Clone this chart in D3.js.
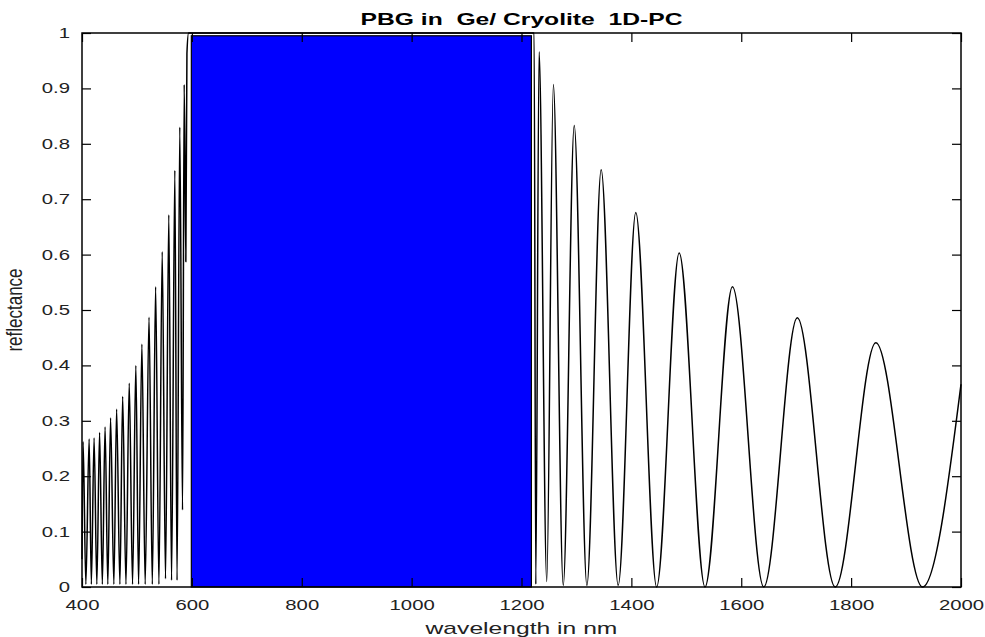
<!DOCTYPE html>
<html>
<head>
<meta charset="utf-8">
<title>PBG in Ge/ Cryolite 1D-PC</title>
<script src="https://cdn.jsdelivr.net/npm/d3@7"></script>
<style>
  body { margin: 0; background: #fff; }
  svg { display: block; font-family: "Liberation Sans", Arial, Helvetica, sans-serif; }
</style>
</head>
<body>
<svg id="chart" width="985" height="637"></svg>
<script>
// turning points of the reflectance curve (nm / R)
var wavelength = [400, 402, 407, 413, 417, 422, 427, 432, 437, 442,
                  447, 452, 458, 463, 469, 474, 480, 486, 492, 498,
                  503, 509, 515, 522, 528, 534, 540, 546, 552, 558,
                  563, 569, 573, 578, 583, 586, 589, 591, 594, 1223,
                  1226, 1232, 1246, 1258, 1276, 1296, 1319, 1345, 1376, 1408,
                  1446, 1487, 1534, 1584, 1641, 1702, 1771, 1845, 1930, 2000];
var reflectance = [0.05, 0.262, 0.005, 0.267, 0.005, 0.269, 0.005, 0.279, 0.005, 0.289,
                   0.005, 0.305, 0.005, 0.321, 0.005, 0.344, 0.005, 0.368, 0.005, 0.40,
                   0.005, 0.438, 0.005, 0.487, 0.005, 0.542, 0.005, 0.605, 0.015, 0.672,
                   0.012, 0.752, 0.012, 0.83, 0.139, 0.907, 0.587, 0.963, 1.0, 1.0,
                   0.005, 0.966, 0.01, 0.907, 0.003, 0.833, 0.003, 0.753, 0.003, 0.676,
                   0.0, 0.603, 0.0, 0.542, 0.0, 0.486, 0.0, 0.441, 0.0, 0.366];

// photonic band gap (shaded box)
var gapStart = 599, gapEnd = 1218, gapTop = 0.995;

var xTicks = [400, 600, 800, 1000, 1200, 1400, 1600, 1800, 2000];
var yTicks = [0, 0.1, 0.2, 0.3, 0.4, 0.5, 0.6, 0.7, 0.8, 0.9, 1];
var yTickLabels = ["0", "0.1", "0.2", "0.3", "0.4", "0.5", "0.6", "0.7", "0.8", "0.9", "1"];

var title = "PBG in  Ge/ Cryolite  1D-PC";
var xLabel = "wavelength in nm";
var yLabel = "reflectance";

var plotL = 82, plotR = 961, plotT = 33, plotB = 587;
var stretch = 1.45;   // the original figure is widened horizontally

var svg = d3.select("#chart");

var x = d3.scaleLinear().domain([400, 2000]).range([plotL, plotR]);
var y = d3.scaleLinear().domain([0, 1]).range([plotB, plotT]);

var pts = wavelength.map(function (w, i) { return [w, reflectance[i]]; });

var line = d3.line()
    .x(function (d) { return x(d[0]); })
    .y(function (d) { return y(d[1]); })
    .curve(d3.curveMonotoneX);

svg.append("path")
    .attr("d", line(pts))
    .attr("fill", "none")
    .attr("stroke", "black")
    .attr("stroke-width", 1.5)
    .attr("stroke-linejoin", "round");

svg.append("rect")
    .attr("x", x(gapStart))
    .attr("y", y(gapTop))
    .attr("width", x(gapEnd) - x(gapStart))
    .attr("height", y(0) - y(gapTop))
    .attr("fill", "#0000ff")
    .attr("stroke", "black")
    .attr("stroke-width", 1.2);

function widen(sel, k) {
    sel.each(function () {
        var w = this.getComputedTextLength();
        d3.select(this).attr("textLength", w * k).attr("lengthAdjust", "spacingAndGlyphs");
    });
}

function styleAxis(g) {
    g.select(".domain").remove();
    g.selectAll(".tick line").attr("stroke", "black").attr("stroke-width", 1.2);
    g.selectAll("text").attr("fill", "#222").style("font-size", "14px")
        .style("font-family", "'Liberation Sans', Arial, sans-serif");
}

var gx = svg.append("g").attr("transform", "translate(0," + plotB + ")")
    .call(d3.axisBottom(x).tickValues(xTicks).tickSize(-9).tickPadding(13).tickFormat(d3.format("d")));
styleAxis(gx);
widen(gx.selectAll("text"), stretch);

var gxt = svg.append("g").attr("transform", "translate(0," + plotT + ")")
    .call(d3.axisTop(x).tickValues(xTicks).tickSize(-9).tickFormat(""));
styleAxis(gxt);

var gy = svg.append("g").attr("transform", "translate(" + plotL + ",0)")
    .call(d3.axisLeft(y).tickValues(yTicks).tickSize(-9).tickPadding(12)
        .tickFormat(function (d, i) { return yTickLabels[i]; }));
styleAxis(gy);
widen(gy.selectAll("text"), stretch);

var gyr = svg.append("g").attr("transform", "translate(" + plotR + ",0)")
    .call(d3.axisRight(y).tickValues(yTicks).tickSize(-9).tickFormat(""));
styleAxis(gyr);

// box
svg.append("rect")
    .attr("x", plotL).attr("y", plotT)
    .attr("width", plotR - plotL).attr("height", plotB - plotT)
    .attr("fill", "none").attr("stroke", "black").attr("stroke-width", 1.5);

var t = svg.append("text")
    .attr("x", (plotL + plotR) / 2).attr("y", 25)
    .attr("text-anchor", "middle")
    .style("font-size", "17px").style("font-weight", "bold")
    .style("white-space", "pre")
    .text(title);
widen(t, stretch);

var xl = svg.append("text")
    .attr("x", (plotL + plotR) / 2).attr("y", 634)
    .attr("text-anchor", "middle")
    .attr("fill", "#222")
    .style("font-size", "17px")
    .text(xLabel);
widen(xl, stretch);

svg.append("text")
    .attr("transform", "translate(22," + (plotT + plotB) / 2 + ") scale(1.25,1) rotate(-90)")
    .attr("text-anchor", "middle")
    .attr("fill", "#222")
    .style("font-size", "17px")
    .text(yLabel);
</script>
</body>
</html>
